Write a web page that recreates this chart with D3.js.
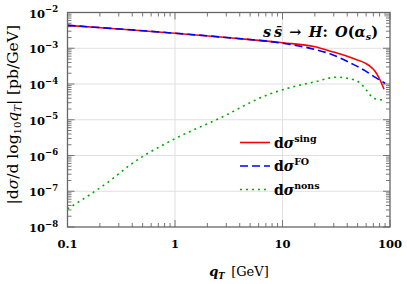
<!DOCTYPE html>
<html>
<head>
<meta charset="utf-8">
<script src="https://cdn.jsdelivr.net/npm/d3@7"></script>
<style>
  body { margin: 0; background: #fff; }
  text { font-family: "DejaVu Serif", "Liberation Serif", serif; fill: #000; }
</style>
</head>
<body>
<div class="plot"></div>
<script>
// data (qT in GeV, |dsigma/dlog10 qT| in pb/GeV)
const singQ = [0.1, 0.3, 1, 3, 10, 20, 28, 45, 65, 72, 80, 88];
const singV = [4.37e-3, 3.47e-3, 2.63e-3, 2.0e-3, 1.43e-3, 1.10e-3, 8.3e-4, 5.25e-4, 3.16e-4, 2.34e-4, 1.38e-4, 7.1e-5];

const foQ = [0.1, 0.3, 1, 3, 10, 20, 28, 45, 58, 70, 80, 90];
const foV = [4.37e-3, 3.47e-3, 2.63e-3, 2.0e-3, 1.38e-3, 9.3e-4, 6.9e-4, 3.6e-4, 2.4e-4, 1.66e-4, 1.29e-4, 1.05e-4];

const nonsQ = [0.1, 0.25, 0.4, 1, 2.6, 7.3, 12.5, 20, 32, 49, 53, 61, 70, 78, 89];
const nonsV = [3.2e-8, 2.0e-7, 6.0e-7, 2.95e-6, 1.1e-5, 5.0e-5, 8.3e-5, 1.15e-4, 1.55e-4, 1.23e-4, 1.05e-4, 6.5e-5, 4.0e-5, 3.7e-5, 3.55e-5];

const xTicks = [0.1, 1, 10, 100];
const xTickLabels = ['0.1', '1', '10', '100'];
const yExps = [-2, -3, -4, -5, -6, -7, -8];

const series = [
  {q: singQ, v: singV, color: '#ff0000', dash: null, label: 'sing'},
  {q: foQ, v: foV, color: '#0000ff', dash: '8,4', label: 'FO'},
  {q: nonsQ, v: nonsV, color: '#00aa00', dash: '2,4', label: 'nons'}
];

const width = 407, height = 284;
const mLeft = 67.5, mRight = 390, mTop = 12.5, mBottom = 227;

const svg = d3.select('.plot').append('svg')
  .attr('width', width)
  .attr('height', height);

const x = d3.scaleLog().domain([0.1, 100]).range([mLeft, mRight]);
const y = d3.scaleLog().domain([1e-8, 1e-2]).range([mBottom, mTop]);

// grid lines
svg.append('g').selectAll('line')
  .data(xTicks.slice(1, -1))
  .enter().append('line')
  .attr('x1', d => x(d)).attr('x2', d => x(d))
  .attr('y1', mTop).attr('y2', mBottom)
  .attr('stroke', '#e0e0e0').attr('stroke-width', 1);

svg.append('g').selectAll('line')
  .data(yExps.slice(1, -1))
  .enter().append('line')
  .attr('x1', mLeft).attr('x2', mRight)
  .attr('y1', d => y(Math.pow(10, d))).attr('y2', d => y(Math.pow(10, d)))
  .attr('stroke', '#e0e0e0').attr('stroke-width', 1);

// minor / major ticks on all four sides
const xMinor = [];
[0.1, 1, 10].forEach(b => { for (let k = 2; k <= 9; k++) xMinor.push(b * k); });
const yMinor = [];
[1e-8, 1e-7, 1e-6, 1e-5, 1e-4, 1e-3].forEach(b => { for (let k = 2; k <= 9; k++) yMinor.push(b * k); });

const tickColor = '#777';
const ticks = svg.append('g').attr('stroke', tickColor).attr('stroke-width', 1);

xMinor.forEach(d => {
  ticks.append('line').attr('x1', x(d)).attr('x2', x(d)).attr('y1', mBottom).attr('y2', mBottom - 4);
  ticks.append('line').attr('x1', x(d)).attr('x2', x(d)).attr('y1', mTop).attr('y2', mTop + 4);
});
xTicks.forEach(d => {
  ticks.append('line').attr('x1', x(d)).attr('x2', x(d)).attr('y1', mBottom).attr('y2', mBottom - 7);
  ticks.append('line').attr('x1', x(d)).attr('x2', x(d)).attr('y1', mTop).attr('y2', mTop + 7);
});
yMinor.forEach(d => {
  ticks.append('line').attr('x1', mLeft).attr('x2', mLeft + 4).attr('y1', y(d)).attr('y2', y(d));
  ticks.append('line').attr('x1', mRight).attr('x2', mRight - 4).attr('y1', y(d)).attr('y2', y(d));
});
yExps.forEach(e => {
  const v = Math.pow(10, e);
  ticks.append('line').attr('x1', mLeft).attr('x2', mLeft + 7).attr('y1', y(v)).attr('y2', y(v));
  ticks.append('line').attr('x1', mRight).attr('x2', mRight - 7).attr('y1', y(v)).attr('y2', y(v));
});

// curves
const line = d3.line()
  .x(d => x(d[0]))
  .y(d => y(d[1]))
  .curve(d3.curveMonotoneX);

series.forEach(s => {
  svg.append('path')
    .datum(s.q.map((q, i) => [q, s.v[i]]))
    .attr('d', line)
    .attr('fill', 'none')
    .attr('stroke', s.color)
    .attr('stroke-width', 1.6)
    .attr('stroke-dasharray', s.dash);
});

// frame
svg.append('rect')
  .attr('x', mLeft).attr('y', mTop)
  .attr('width', mRight - mLeft).attr('height', mBottom - mTop)
  .attr('fill', 'none').attr('stroke', '#666').attr('stroke-width', 1.3);

// y tick labels
yExps.forEach(e => {
  const t = svg.append('text')
    .attr('x', 29).attr('y', y(Math.pow(10, e)) + 5)
    .attr('font-size', 11.5).attr('font-weight', 'bold');
  t.append('tspan').text('10');
  t.append('tspan').attr('dy', -5.5).attr('font-size', 8.5).text('\u2212' + Math.abs(e));
});

// x tick labels
svg.selectAll('.xlab')
  .data(xTicks)
  .enter().append('text')
  .attr('x', d => x(d)).attr('y', 248)
  .attr('text-anchor', 'middle')
  .attr('font-size', 11.5).attr('font-weight', 'bold')
  .text((d, i) => xTickLabels[i]);

// x axis title
const xt = svg.append('text').attr('x', 239).attr('y', 276)
  .attr('text-anchor', 'middle').attr('font-size', 13);
xt.append('tspan').attr('font-style', 'italic').attr('font-weight', 'bold').text('q');
xt.append('tspan').attr('font-style', 'italic').attr('font-weight', 'bold').attr('font-size', 8.5).attr('dy', 3).text('T');
xt.append('tspan').attr('dy', -3).text('\u2002[GeV]');

// y axis title
const yt = svg.append('text')
  .attr('transform', 'translate(18,' + ((mTop + mBottom) / 2 - 5) + ') rotate(-90)')
  .attr('text-anchor', 'middle').attr('font-size', 15.5);
yt.append('tspan').text('|d');
yt.append('tspan').attr('font-style', 'italic').text('\u03c3');
yt.append('tspan').text('/d log');
yt.append('tspan').attr('font-size', 10).attr('dy', 3).text('10');
yt.append('tspan').attr('dy', -3).attr('font-style', 'italic').text('q');
yt.append('tspan').attr('font-style', 'italic').attr('font-size', 10).attr('dy', 3).text('T');
yt.append('tspan').attr('dy', -3).text('| [pb/GeV]');

// process label
const pl = svg.append('text').attr('x', 378).attr('y', 37)
  .attr('text-anchor', 'end').attr('font-size', 14.5).attr('font-weight', 'bold');
pl.append('tspan').attr('font-style', 'italic').text('s\u2009s\u0304\u2002\u2192\u2002H');
pl.append('tspan').text(':\u2002');
pl.append('tspan').attr('font-style', 'italic').text('O');
pl.append('tspan').text('(');
pl.append('tspan').attr('font-style', 'italic').text('\u03b1');
pl.append('tspan').attr('font-style', 'italic').attr('font-size', 9.5).attr('dy', 3).text('s');
pl.append('tspan').attr('dy', -3).text(')');

// legend
series.forEach((s, i) => {
  const ly = 142.5 + i * 23.5;
  svg.append('line')
    .attr('x1', 240).attr('x2', 270).attr('y1', ly).attr('y2', ly)
    .attr('stroke', s.color).attr('stroke-width', 1.6)
    .attr('stroke-dasharray', s.dash);
  const t = svg.append('text').attr('x', 274).attr('y', ly + 5)
    .attr('font-size', 14).attr('font-weight', 'bold');
  t.append('tspan').text('d');
  t.append('tspan').attr('font-style', 'italic').text('\u03c3');
  t.append('tspan').attr('dy', -6).attr('font-size', 9.5).text(s.label);
});
</script>
</body>
</html>
